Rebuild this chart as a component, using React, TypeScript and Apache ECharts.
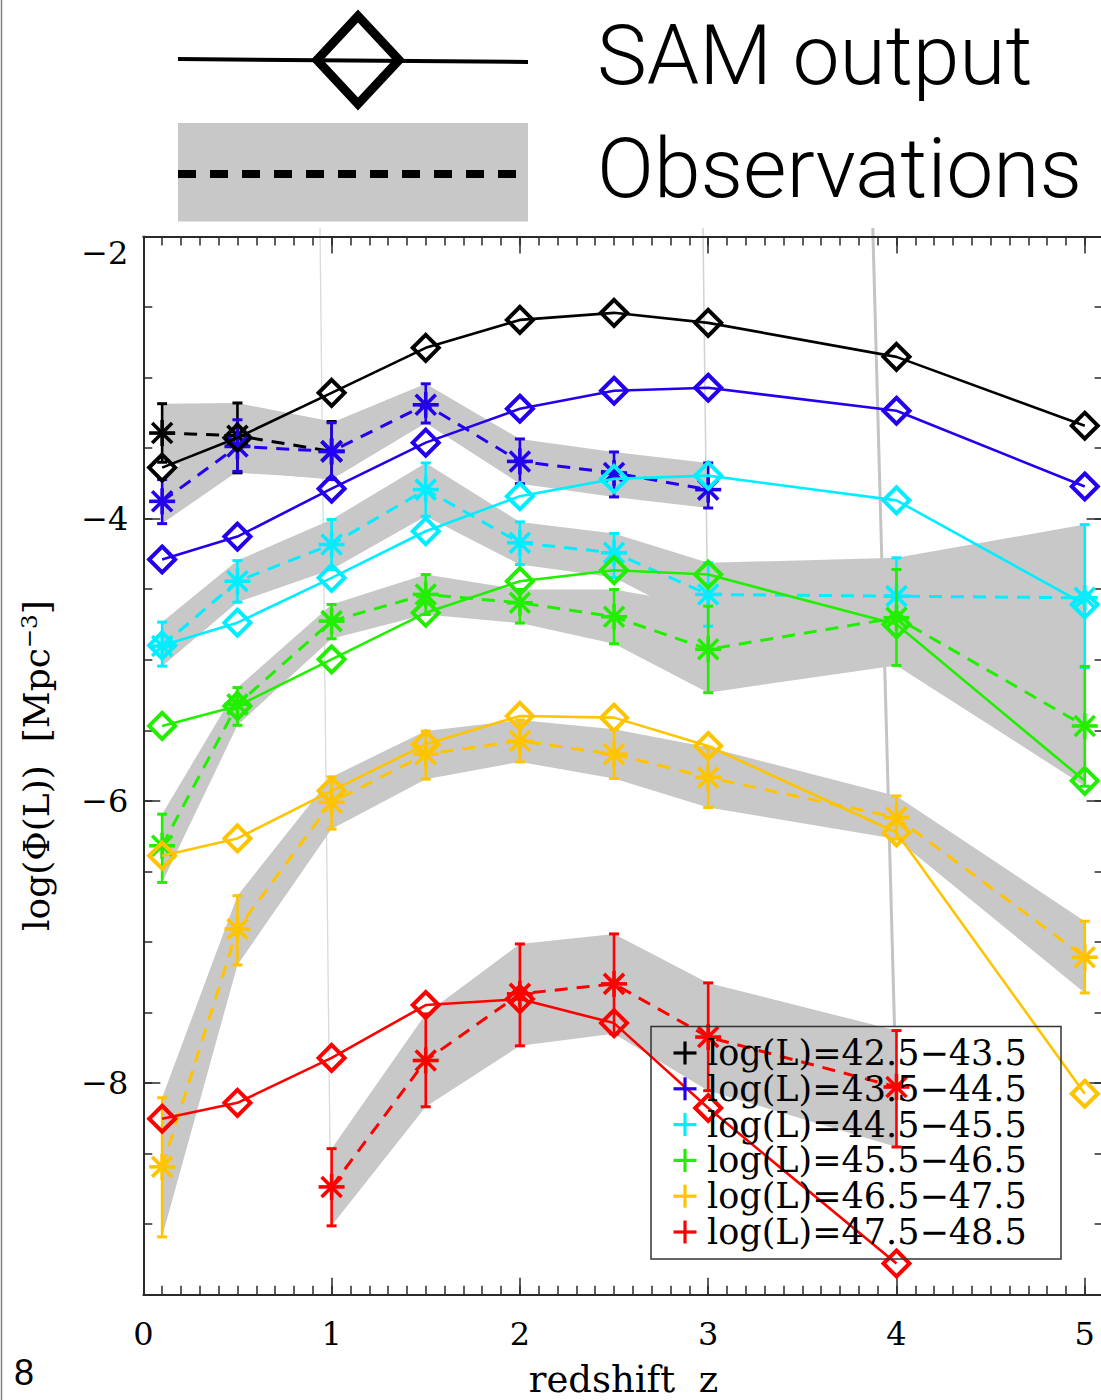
import React, { useEffect, useRef } from "react";
import * as echarts from "echarts";

// ---------------- data ----------------
const redshifts = [0.1, 0.5, 1, 1.5, 2, 2.5, 3, 4, 5];
const binLabels = [
  "log(L)=42.5\u221243.5",
  "log(L)=43.5\u221244.5",
  "log(L)=44.5\u221245.5",
  "log(L)=45.5\u221246.5",
  "log(L)=46.5\u221247.5",
  "log(L)=47.5\u221248.5",
];
const binColors = ["#000000", "#2200ee", "#00eeff", "#22ee00", "#ffc400", "#ff0000"];

// SAM output (log Phi) at the redshifts above
const samBin1 = [-3.638, -3.426, -3.108, -2.789, -2.591, -2.541, -2.612, -2.853, -3.341];
const samBin2 = [-4.289, -4.127, -3.787, -3.461, -3.221, -3.093, -3.072, -3.235, -3.772];
const samBin3 = [-4.898, -4.737, -4.419, -4.089, -3.841, -3.718, -3.695, -3.870, -4.608];
const samBin4 = [-5.469, -5.328, -4.997, -4.667, -4.443, -4.365, -4.396, -4.749, -5.858];
const samBin5 = [-6.389, -6.266, -5.929, -5.599, -5.398, -5.410, -5.611, -6.224, -8.076];
const samBin6 = [-8.253, -8.140, -7.822, -7.447, -7.405, -7.575, -8.177, -9.279];

// Observations: redshift, value, lower, upper
const obsZ1 = [0.1, 0.5, 1];
const obsVal1 = [-3.393, -3.412, -3.523];
const obsLo1 = [-3.600, -3.675, -3.716];
const obsHi1 = [-3.185, -3.180, -3.311];

const obsZ2 = [0.1, 0.5, 1, 1.5, 2, 2.5, 3];
const obsVal2 = [-3.877, -3.488, -3.523, -3.193, -3.594, -3.676, -3.794];
const obsLo2 = [-4.035, -3.665, -3.723, -3.322, -3.752, -3.846, -3.924];
const obsHi2 = [-3.723, -3.299, -3.320, -3.044, -3.435, -3.527, -3.605];

const obsZ3 = [0.1, 0.5, 1, 1.5, 2, 2.5, 3, 4, 5];
const obsVal3 = [-4.903, -4.443, -4.183, -3.794, -4.171, -4.242, -4.537, -4.549, -4.561];
const obsLo3 = [-5.045, -4.592, -4.360, -3.983, -4.325, -4.417, -4.762, -4.820, -5.056];
const obsHi3 = [-4.733, -4.297, -4.006, -3.605, -4.023, -4.105, -4.313, -4.277, -4.042];

const obsZ4 = [0.1, 0.5, 1, 1.5, 2, 2.5, 3, 4, 5];
const obsVal4 = [-6.318, -5.316, -4.726, -4.537, -4.596, -4.695, -4.926, -4.702, -5.469];
const obsLo4 = [-6.578, -5.464, -4.851, -4.679, -4.740, -4.886, -5.233, -5.040, -5.896];
const obsHi4 = [-6.094, -5.197, -4.608, -4.396, -4.502, -4.502, -4.620, -4.360, -5.047];

const obsZ5 = [0.1, 0.5, 1, 1.5, 2, 2.5, 3, 4, 5];
const obsVal5 = [-8.594, -6.908, -6.011, -5.669, -5.575, -5.669, -5.834, -6.118, -7.108];
const obsLo5 = [-9.090, -7.163, -6.200, -5.846, -5.724, -5.841, -6.047, -6.271, -7.361];
const obsHi5 = [-8.104, -6.672, -5.830, -5.505, -5.427, -5.493, -5.620, -5.965, -6.853];

const obsZ6 = [1, 1.5, 2, 2.5, 3, 4];
const obsVal6 = [-8.736, -7.840, -7.368, -7.297, -7.674, -8.028];
const obsLo6 = [-9.012, -8.168, -7.736, -7.651, -8.054, -8.453];
const obsHi6 = [-8.465, -7.510, -7.014, -6.943, -7.290, -7.628];

const xMajorTicks = [0, 1, 2, 3, 4, 5];
const yMajorTicks = [-8, -6, -4, -2];

// ---------------- helpers ----------------
const samSets = [samBin1, samBin2, samBin3, samBin4, samBin5, samBin6];
const obsSets = [
  { z: obsZ1, v: obsVal1, lo: obsLo1, hi: obsHi1 },
  { z: obsZ2, v: obsVal2, lo: obsLo2, hi: obsHi2 },
  { z: obsZ3, v: obsVal3, lo: obsLo3, hi: obsHi3 },
  { z: obsZ4, v: obsVal4, lo: obsLo4, hi: obsHi4 },
  { z: obsZ5, v: obsVal5, lo: obsLo5, hi: obsHi5 },
  { z: obsZ6, v: obsVal6, lo: obsLo6, hi: obsHi6 },
];

const SERIF = "DejaVu Serif";
const AX = "#2a2a2a";

function bandRender(params: any, api: any) {
  const o = obsSets[params.dataIndex];
  const top = o.z.map((z, k) => api.coord([z, o.hi[k]]));
  const bot = o.z.map((z, k) => api.coord([z, o.lo[k]])).reverse();
  return {
    type: "polygon",
    shape: { points: top.concat(bot) },
    style: { fill: "#c8c8c8", stroke: "none" },
  };
}

function errRender(color: string) {
  return (params: any, api: any) => {
    const x = api.value(0);
    const c = api.coord([x, api.value(1)]);
    const lo = api.coord([x, api.value(2)]);
    const hi = api.coord([x, api.value(3)]);
    const cap = 5;
    const r = 13;
    const d = 10;
    const sBar = { stroke: color, lineWidth: 2.6 };
    const sStar = { stroke: color, lineWidth: 3.6 };
    const ln = (x1: number, y1: number, x2: number, y2: number, s: any) => ({
      type: "line",
      shape: { x1, y1, x2, y2 },
      style: s,
    });
    return {
      type: "group",
      children: [
        ln(lo[0], lo[1], hi[0], hi[1], sBar),
        ln(lo[0] - cap, lo[1], lo[0] + cap, lo[1], { stroke: color, lineWidth: 3 }),
        ln(hi[0] - cap, hi[1], hi[0] + cap, hi[1], { stroke: color, lineWidth: 3 }),
        ln(c[0] - r, c[1], c[0] + r, c[1], sStar),
        ln(c[0], c[1] - r, c[0], c[1] + r, sStar),
        ln(c[0] - d, c[1] - d, c[0] + d, c[1] + d, sStar),
        ln(c[0] - d, c[1] + d, c[0] + d, c[1] - d, sStar),
      ],
    };
  };
}

function makeXAxis(position: string, major: boolean, labels: boolean) {
  const base: any = {
    type: "value",
    min: 0,
    max: 5.1,
    position,
    splitLine: { show: false },
    axisLine: { show: major, onZero: false, lineStyle: { color: AX, width: 2 } },
  };
  if (major) {
    base.axisTick = { show: true, inside: true, length: 17, customValues: xMajorTicks, lineStyle: { color: AX, width: 1.5 } };
    base.axisLabel = labels
      ? { show: true, customValues: xMajorTicks, fontFamily: SERIF, fontSize: 32, color: "#000", margin: 23 }
      : { show: false };
  } else {
    base.interval = 0.1;
    base.axisTick = { show: true, inside: true, length: 9, lineStyle: { color: AX, width: 1.5 } };
    base.axisLabel = { show: false };
  }
  if (labels) {
    base.name = "redshift  z";
    base.nameLocation = "middle";
    base.nameGap = 66;
    base.nameTextStyle = { fontFamily: SERIF, fontSize: 37, color: "#000" };
  }
  return base;
}

function makeYAxis(position: string, major: boolean, labels: boolean) {
  const base: any = {
    type: "value",
    min: -9.5,
    max: -2,
    position,
    splitLine: { show: false },
    axisLine: { show: major, onZero: false, lineStyle: { color: AX, width: 2 } },
  };
  if (major) {
    base.axisTick = { show: true, inside: true, length: 17, customValues: yMajorTicks, lineStyle: { color: AX, width: 1.5 } };
    base.axisLabel = labels
      ? {
          show: true,
          customValues: yMajorTicks,
          fontFamily: SERIF,
          fontSize: 32,
          color: "#000",
          margin: 15,
          verticalAlignMaxLabel: "top",
          formatter: (v: number) => (v < 0 ? "\u2212" + Math.abs(v) : String(v)),
        }
      : { show: false };
  } else {
    base.interval = 0.5;
    base.axisTick = { show: true, inside: true, length: 9, lineStyle: { color: AX, width: 1.5 } };
    base.axisLabel = { show: false };
  }
  if (labels) {
    base.name = "log(\u03A6(L))  [Mpc{sup|\u22123}]";
    base.nameLocation = "middle";
    base.nameGap = 88;
    base.nameRotate = 90;
    base.nameTextStyle = {
      fontFamily: SERIF,
      fontSize: 36,
      color: "#000",
      rich: {
        sup: { fontFamily: SERIF, fontSize: 23, color: "#000", verticalAlign: "top", padding: [0, 0, 15, 0] },
      },
    };
  }
  return base;
}

function buildGraphic() {
  const g: any[] = [];
  // left page border and faint scan artefact lines
  g.push({ type: "line", shape: { x1: 1.5, y1: 0, x2: 1.5, y2: 1400 }, style: { stroke: "#808080", lineWidth: 1.5 }, z: 0 });
  g.push({ type: "line", shape: { x1: 320, y1: 228, x2: 330, y2: 1150 }, style: { stroke: "#dadada", lineWidth: 1.3 }, z: 0 });
  g.push({ type: "line", shape: { x1: 703, y1: 228, x2: 707, y2: 560 }, style: { stroke: "#d2d2d2", lineWidth: 1.5 }, z: 0 });
  g.push({ type: "line", shape: { x1: 872.8, y1: 228, x2: 894.5, y2: 1027 }, style: { stroke: "#c4c4c4", lineWidth: 3 }, z: 0 });

  // top legend
  g.push({ type: "line", shape: { x1: 178, y1: 59, x2: 528, y2: 62 }, style: { stroke: "#000", lineWidth: 4 }, z: 50 });
  g.push({
    type: "polygon",
    shape: { points: [[358, 16], [399, 60], [358, 104], [317, 60]] },
    style: { stroke: "#000", lineWidth: 9, fill: "none", lineJoin: "miter" },
    z: 51,
  });
  g.push({ type: "rect", shape: { x: 178, y: 123, width: 350, height: 98.5 }, style: { fill: "#c8c8c8" }, z: 50 });
  g.push({
    type: "line",
    shape: { x1: 178, y1: 174, x2: 516, y2: 174 },
    style: { stroke: "#000", lineWidth: 8, lineDash: [18, 14] },
    z: 51,
  });
  g.push({
    type: "text",
    x: 597,
    y: 55,
    style: { text: "SAM output", font: "300 84px Roboto, 'Liberation Sans', sans-serif", fill: "#000", textVerticalAlign: "middle" },
    z: 51,
  });
  g.push({
    type: "text",
    x: 597,
    y: 168,
    style: { text: "Observations", font: "300 84px Roboto, 'Liberation Sans', sans-serif", fill: "#000", textVerticalAlign: "middle" },
    z: 51,
  });

  // page number
  g.push({
    type: "text",
    x: 14,
    y: 1372,
    style: { text: "8", font: "36px 'Liberation Sans', sans-serif", fill: "#000", textVerticalAlign: "middle" },
    z: 51,
  });

  // inner legend
  g.push({
    type: "rect",
    shape: { x: 651, y: 1026.5, width: 410, height: 232.5 },
    style: { fill: "none", stroke: "#333", lineWidth: 1.5 },
    z: 100,
  });
  binLabels.forEach((lab, i) => {
    const cy = 1053 + i * 35.8;
    g.push({ type: "line", shape: { x1: 673.5, y1: cy, x2: 696.5, y2: cy }, style: { stroke: binColors[i], lineWidth: 3.2 }, z: 100 });
    g.push({ type: "line", shape: { x1: 685, y1: cy - 11.5, x2: 685, y2: cy + 11.5 }, style: { stroke: binColors[i], lineWidth: 3.2 }, z: 100 });
    g.push({
      type: "text",
      x: 707,
      y: cy,
      style: { text: lab, font: `35px '${SERIF}', serif`, fill: "#000", textVerticalAlign: "middle" },
      z: 100,
    });
  });
  return g;
}

export default function App() {
  const ref = useRef<HTMLDivElement>(null);
  useEffect(() => {
    if (!ref.current) return;
    const chart = echarts.init(ref.current, null, { renderer: "svg" });
    const series: any[] = [];
    series.push({
      type: "custom",
      name: "bands",
      xAxisIndex: 0,
      yAxisIndex: 0,
      data: obsSets.map((_, i) => [i, -5]),
      renderItem: bandRender,
      clip: false,
      silent: true,
      z: 1,
    });
    obsSets.forEach((o, i) => {
      series.push({
        type: "line",
        name: "obs" + i,
        xAxisIndex: 0,
        yAxisIndex: 0,
        data: o.z.map((z, k) => [z, o.v[k]]),
        symbol: "none",
        lineStyle: { color: binColors[i], width: 3, type: [13, 9] },
        z: 3,
        silent: true,
      });
      series.push({
        type: "custom",
        name: "err" + i,
        xAxisIndex: 0,
        yAxisIndex: 0,
        data: o.z.map((z, k) => [z, o.v[k], o.lo[k], o.hi[k]]),
        renderItem: errRender(binColors[i]),
        clip: false,
        silent: true,
        z: 4,
      });
    });
    samSets.forEach((s, i) => {
      series.push({
        type: "line",
        name: binLabels[i],
        xAxisIndex: 0,
        yAxisIndex: 0,
        data: s.map((v, k) => [redshifts[k], v]),
        symbol: "diamond",
        symbolSize: 26,
        showSymbol: true,
        lineStyle: { color: binColors[i], width: 2.6 },
        itemStyle: { color: "rgba(255,255,255,0)", borderColor: binColors[i], borderWidth: 4 },
        z: 5,
        silent: true,
      });
    });

    chart.setOption({
      animation: false,
      backgroundColor: "#ffffff",
      grid: {
        left: 143.3,
        top: 236.5,
        width: 960.3,
        height: 1058.2,
        containLabel: false,
        outerBoundsMode: "none",
      },
      xAxis: [
        makeXAxis("bottom", true, true),
        makeXAxis("bottom", false, false),
        makeXAxis("top", true, false),
        makeXAxis("top", false, false),
      ],
      yAxis: [
        makeYAxis("left", true, true),
        makeYAxis("left", false, false),
        makeYAxis("right", true, false),
        makeYAxis("right", false, false),
      ],
      graphic: buildGraphic(),
      series,
    });
    return () => chart.dispose();
  }, []);
  return (
    <div style={{ position: "absolute", left: 0, top: 0, width: 1101, height: 1400, overflow: "hidden", background: "#fff" }}>
      <div ref={ref} style={{ width: 1112, height: 1400 }} />
    </div>
  );
}
